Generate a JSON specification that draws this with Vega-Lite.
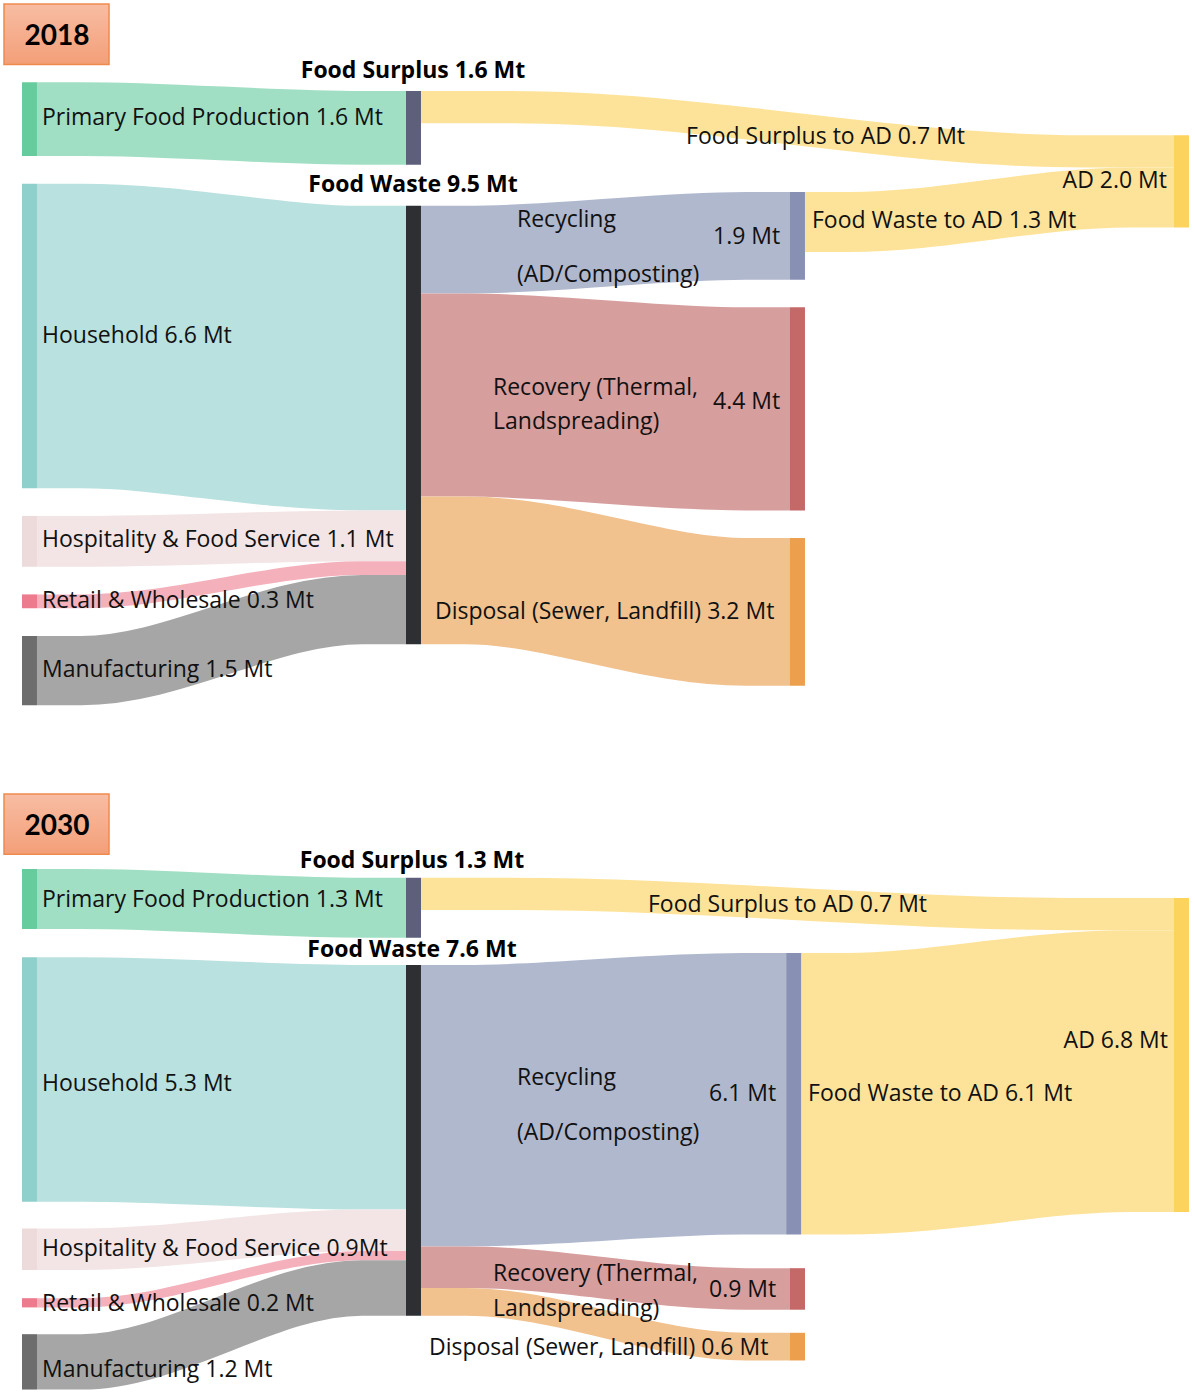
{
  "$schema": "https://vega.github.io/schema/vega-lite/v6.json",
  "width": 1195,
  "height": 1392,
  "autosize": {"type": "none"},
  "padding": 0,
  "background": "white",
  "config": {"view": {"stroke": null}, "text": {"font": "Open Sans", "fontSize": 23, "color": "#111111"}},
  "datasets": {
    "nodes": [
      {"yr": 2018, "node": "Primary", "col": 0, "top": 1.78, "value": 1.6},
      {"yr": 2018, "node": "Household", "col": 0, "top": 3.98, "value": 6.6},
      {"yr": 2018, "node": "Hospitality", "col": 0, "top": 11.18, "value": 1.1},
      {"yr": 2018, "node": "Retail", "col": 0, "top": 12.88, "value": 0.3},
      {"yr": 2018, "node": "Manufacturing", "col": 0, "top": 13.78, "value": 1.5},
      {"yr": 2018, "node": "Food Surplus", "col": 1, "top": 1.97, "value": 1.6},
      {"yr": 2018, "node": "Food Waste", "col": 1, "top": 4.46, "value": 9.5},
      {"yr": 2018, "node": "Recycling", "col": 2, "top": 4.16, "value": 1.9},
      {"yr": 2018, "node": "Recovery", "col": 2, "top": 6.66, "value": 4.4},
      {"yr": 2018, "node": "Disposal", "col": 2, "top": 11.66, "value": 3.2},
      {"yr": 2018, "node": "AD", "col": 3, "top": 2.93, "value": 2.0},
      {"yr": 2030, "node": "Primary", "col": 0, "top": 18.83, "value": 1.3},
      {"yr": 2030, "node": "Household", "col": 0, "top": 20.74, "value": 5.3},
      {"yr": 2030, "node": "Hospitality", "col": 0, "top": 26.62, "value": 0.9},
      {"yr": 2030, "node": "Retail", "col": 0, "top": 28.13, "value": 0.2},
      {"yr": 2030, "node": "Manufacturing", "col": 0, "top": 28.91, "value": 1.2},
      {"yr": 2030, "node": "Food Surplus", "col": 1, "top": 19.02, "value": 1.3},
      {"yr": 2030, "node": "Food Waste", "col": 1, "top": 20.91, "value": 7.6},
      {"yr": 2030, "node": "Recycling", "col": 1.99, "top": 20.65, "value": 6.1},
      {"yr": 2030, "node": "Recovery", "col": 2, "top": 27.48, "value": 0.9},
      {"yr": 2030, "node": "Disposal", "col": 2, "top": 28.88, "value": 0.6},
      {"yr": 2030, "node": "AD", "col": 3, "top": 19.46, "value": 6.8}
    ],
    "links": [
      {"yr": 2018, "link": "Primary to Surplus", "i": 0, "x": 0.039, "y": 1.78, "v": 1.6},
      {"yr": 2018, "link": "Primary to Surplus", "i": 1, "x": 0.154, "y": 1.78, "v": 1.6},
      {"yr": 2018, "link": "Primary to Surplus", "i": 2, "x": 0.885, "y": 1.97, "v": 1.6},
      {"yr": 2018, "link": "Primary to Surplus", "i": 3, "x": 1, "y": 1.97, "v": 1.6},
      {"yr": 2018, "link": "Household to Waste", "i": 0, "x": 0.039, "y": 3.98, "v": 6.6},
      {"yr": 2018, "link": "Household to Waste", "i": 1, "x": 0.154, "y": 3.98, "v": 6.6},
      {"yr": 2018, "link": "Household to Waste", "i": 2, "x": 0.885, "y": 4.46, "v": 6.6},
      {"yr": 2018, "link": "Household to Waste", "i": 3, "x": 1, "y": 4.46, "v": 6.6},
      {"yr": 2018, "link": "Hospitality to Waste", "i": 0, "x": 0.039, "y": 11.18, "v": 1.1},
      {"yr": 2018, "link": "Hospitality to Waste", "i": 1, "x": 0.154, "y": 11.18, "v": 1.1},
      {"yr": 2018, "link": "Hospitality to Waste", "i": 2, "x": 0.885, "y": 11.06, "v": 1.1},
      {"yr": 2018, "link": "Hospitality to Waste", "i": 3, "x": 1, "y": 11.06, "v": 1.1},
      {"yr": 2018, "link": "Retail to Waste", "i": 0, "x": 0.039, "y": 12.88, "v": 0.3},
      {"yr": 2018, "link": "Retail to Waste", "i": 1, "x": 0.154, "y": 12.88, "v": 0.3},
      {"yr": 2018, "link": "Retail to Waste", "i": 2, "x": 0.885, "y": 12.16, "v": 0.3},
      {"yr": 2018, "link": "Retail to Waste", "i": 3, "x": 1, "y": 12.16, "v": 0.3},
      {"yr": 2018, "link": "Manufacturing to Waste", "i": 0, "x": 0.039, "y": 13.78, "v": 1.5},
      {"yr": 2018, "link": "Manufacturing to Waste", "i": 1, "x": 0.154, "y": 13.78, "v": 1.5},
      {"yr": 2018, "link": "Manufacturing to Waste", "i": 2, "x": 0.885, "y": 12.46, "v": 1.5},
      {"yr": 2018, "link": "Manufacturing to Waste", "i": 3, "x": 1, "y": 12.46, "v": 1.5},
      {"yr": 2018, "link": "Surplus to AD", "i": 0, "x": 1.039, "y": 1.97, "v": 0.7},
      {"yr": 2018, "link": "Surplus to AD", "i": 1, "x": 1.274, "y": 1.97, "v": 0.7},
      {"yr": 2018, "link": "Surplus to AD", "i": 2, "x": 2.765, "y": 2.93, "v": 0.7},
      {"yr": 2018, "link": "Surplus to AD", "i": 3, "x": 3, "y": 2.93, "v": 0.7},
      {"yr": 2018, "link": "Waste to Recycling", "i": 0, "x": 1.039, "y": 4.46, "v": 1.9},
      {"yr": 2018, "link": "Waste to Recycling", "i": 1, "x": 1.154, "y": 4.46, "v": 1.9},
      {"yr": 2018, "link": "Waste to Recycling", "i": 2, "x": 1.885, "y": 4.16, "v": 1.9},
      {"yr": 2018, "link": "Waste to Recycling", "i": 3, "x": 2, "y": 4.16, "v": 1.9},
      {"yr": 2018, "link": "Waste to Recovery", "i": 0, "x": 1.039, "y": 6.36, "v": 4.4},
      {"yr": 2018, "link": "Waste to Recovery", "i": 1, "x": 1.154, "y": 6.36, "v": 4.4},
      {"yr": 2018, "link": "Waste to Recovery", "i": 2, "x": 1.885, "y": 6.66, "v": 4.4},
      {"yr": 2018, "link": "Waste to Recovery", "i": 3, "x": 2, "y": 6.66, "v": 4.4},
      {"yr": 2018, "link": "Waste to Disposal", "i": 0, "x": 1.039, "y": 10.76, "v": 3.2},
      {"yr": 2018, "link": "Waste to Disposal", "i": 1, "x": 1.154, "y": 10.76, "v": 3.2},
      {"yr": 2018, "link": "Waste to Disposal", "i": 2, "x": 1.885, "y": 11.66, "v": 3.2},
      {"yr": 2018, "link": "Waste to Disposal", "i": 3, "x": 2, "y": 11.66, "v": 3.2},
      {"yr": 2018, "link": "Recycling to AD", "i": 0, "x": 2.039, "y": 4.16, "v": 1.3},
      {"yr": 2018, "link": "Recycling to AD", "i": 1, "x": 2.154, "y": 4.16, "v": 1.3},
      {"yr": 2018, "link": "Recycling to AD", "i": 2, "x": 2.885, "y": 3.63, "v": 1.3},
      {"yr": 2018, "link": "Recycling to AD", "i": 3, "x": 3, "y": 3.63, "v": 1.3},
      {"yr": 2030, "link": "Primary to Surplus", "i": 0, "x": 0.039, "y": 18.83, "v": 1.3},
      {"yr": 2030, "link": "Primary to Surplus", "i": 1, "x": 0.154, "y": 18.83, "v": 1.3},
      {"yr": 2030, "link": "Primary to Surplus", "i": 2, "x": 0.885, "y": 19.02, "v": 1.3},
      {"yr": 2030, "link": "Primary to Surplus", "i": 3, "x": 1, "y": 19.02, "v": 1.3},
      {"yr": 2030, "link": "Household to Waste", "i": 0, "x": 0.039, "y": 20.74, "v": 5.3},
      {"yr": 2030, "link": "Household to Waste", "i": 1, "x": 0.154, "y": 20.74, "v": 5.3},
      {"yr": 2030, "link": "Household to Waste", "i": 2, "x": 0.885, "y": 20.91, "v": 5.3},
      {"yr": 2030, "link": "Household to Waste", "i": 3, "x": 1, "y": 20.91, "v": 5.3},
      {"yr": 2030, "link": "Hospitality to Waste", "i": 0, "x": 0.039, "y": 26.62, "v": 0.9},
      {"yr": 2030, "link": "Hospitality to Waste", "i": 1, "x": 0.154, "y": 26.62, "v": 0.9},
      {"yr": 2030, "link": "Hospitality to Waste", "i": 2, "x": 0.885, "y": 26.21, "v": 0.9},
      {"yr": 2030, "link": "Hospitality to Waste", "i": 3, "x": 1, "y": 26.21, "v": 0.9},
      {"yr": 2030, "link": "Retail to Waste", "i": 0, "x": 0.039, "y": 28.13, "v": 0.2},
      {"yr": 2030, "link": "Retail to Waste", "i": 1, "x": 0.154, "y": 28.13, "v": 0.2},
      {"yr": 2030, "link": "Retail to Waste", "i": 2, "x": 0.885, "y": 27.11, "v": 0.2},
      {"yr": 2030, "link": "Retail to Waste", "i": 3, "x": 1, "y": 27.11, "v": 0.2},
      {"yr": 2030, "link": "Manufacturing to Waste", "i": 0, "x": 0.039, "y": 28.91, "v": 1.2},
      {"yr": 2030, "link": "Manufacturing to Waste", "i": 1, "x": 0.154, "y": 28.91, "v": 1.2},
      {"yr": 2030, "link": "Manufacturing to Waste", "i": 2, "x": 0.885, "y": 27.31, "v": 1.2},
      {"yr": 2030, "link": "Manufacturing to Waste", "i": 3, "x": 1, "y": 27.31, "v": 1.2},
      {"yr": 2030, "link": "Surplus to AD", "i": 0, "x": 1.039, "y": 19.02, "v": 0.7},
      {"yr": 2030, "link": "Surplus to AD", "i": 1, "x": 1.274, "y": 19.02, "v": 0.7},
      {"yr": 2030, "link": "Surplus to AD", "i": 2, "x": 2.765, "y": 19.46, "v": 0.7},
      {"yr": 2030, "link": "Surplus to AD", "i": 3, "x": 3, "y": 19.46, "v": 0.7},
      {"yr": 2030, "link": "Waste to Recycling", "i": 0, "x": 1.039, "y": 20.91, "v": 6.1},
      {"yr": 2030, "link": "Waste to Recycling", "i": 1, "x": 1.153, "y": 20.91, "v": 6.1},
      {"yr": 2030, "link": "Waste to Recycling", "i": 2, "x": 1.876, "y": 20.65, "v": 6.1},
      {"yr": 2030, "link": "Waste to Recycling", "i": 3, "x": 1.99, "y": 20.65, "v": 6.1},
      {"yr": 2030, "link": "Waste to Recovery", "i": 0, "x": 1.039, "y": 27.01, "v": 0.9},
      {"yr": 2030, "link": "Waste to Recovery", "i": 1, "x": 1.154, "y": 27.01, "v": 0.9},
      {"yr": 2030, "link": "Waste to Recovery", "i": 2, "x": 1.885, "y": 27.48, "v": 0.9},
      {"yr": 2030, "link": "Waste to Recovery", "i": 3, "x": 2, "y": 27.48, "v": 0.9},
      {"yr": 2030, "link": "Waste to Disposal", "i": 0, "x": 1.039, "y": 27.91, "v": 0.6},
      {"yr": 2030, "link": "Waste to Disposal", "i": 1, "x": 1.154, "y": 27.91, "v": 0.6},
      {"yr": 2030, "link": "Waste to Disposal", "i": 2, "x": 1.885, "y": 28.88, "v": 0.6},
      {"yr": 2030, "link": "Waste to Disposal", "i": 3, "x": 2, "y": 28.88, "v": 0.6},
      {"yr": 2030, "link": "Recycling to AD", "i": 0, "x": 2.029, "y": 20.65, "v": 6.1},
      {"yr": 2030, "link": "Recycling to AD", "i": 1, "x": 2.146, "y": 20.65, "v": 6.1},
      {"yr": 2030, "link": "Recycling to AD", "i": 2, "x": 2.883, "y": 20.16, "v": 6.1},
      {"yr": 2030, "link": "Recycling to AD", "i": 3, "x": 3, "y": 20.16, "v": 6.1}
    ],
    "labelsLeft": [
      {"t": "Primary Food Production 1.6 Mt", "x": 0.0521, "y": 2.709},
      {"t": "Food Surplus to AD 0.7 Mt", "x": 1.7292, "y": 3.12},
      {"t": "Food Waste to AD 1.3 Mt", "x": 2.0573, "y": 4.94},
      {"t": "Recycling", "x": 1.2891, "y": 4.919},
      {"t": "1.9 Mt", "x": 1.7995, "y": 5.287},
      {"t": "(AD/Composting)", "x": 1.2891, "y": 6.11},
      {"t": "Household 6.6 Mt", "x": 0.0521, "y": 7.432},
      {"t": "Recovery (Thermal,", "x": 1.2266, "y": 8.559},
      {"t": "4.4 Mt", "x": 1.7995, "y": 8.862},
      {"t": "Landspreading)", "x": 1.2266, "y": 9.296},
      {"t": "Hospitality & Food Service 1.1 Mt", "x": 0.0521, "y": 11.853},
      {"t": "Retail & Wholesale 0.3 Mt", "x": 0.0521, "y": 13.174},
      {"t": "Disposal (Sewer, Landfill) 3.2 Mt", "x": 1.0755, "y": 13.413},
      {"t": "Manufacturing 1.5 Mt", "x": 0.0521, "y": 14.67},
      {"t": "Primary Food Production 1.3 Mt", "x": 0.0521, "y": 19.653},
      {"t": "Food Surplus to AD 0.7 Mt", "x": 1.6302, "y": 19.762},
      {"t": "Household 5.3 Mt", "x": 0.0521, "y": 23.64},
      {"t": "Recycling", "x": 1.2891, "y": 23.51},
      {"t": "6.1 Mt", "x": 1.7891, "y": 23.857},
      {"t": "Food Waste to AD 6.1 Mt", "x": 2.0469, "y": 23.857},
      {"t": "(AD/Composting)", "x": 1.2891, "y": 24.702},
      {"t": "Hospitality & Food Service 0.9Mt", "x": 0.0521, "y": 27.215},
      {"t": "Recovery (Thermal,", "x": 1.2266, "y": 27.757},
      {"t": "0.9 Mt", "x": 1.7891, "y": 28.104},
      {"t": "Retail & Wholesale 0.2 Mt", "x": 0.0521, "y": 28.407},
      {"t": "Landspreading)", "x": 1.2266, "y": 28.516},
      {"t": "Disposal (Sewer, Landfill) 0.6 Mt", "x": 1.0599, "y": 29.361},
      {"t": "Manufacturing 1.2 Mt", "x": 0.0521, "y": 29.837}
    ],
    "labelsRight": [
      {"t": "AD 2.0 Mt", "x": 2.9818, "y": 4.074},
      {"t": "AD 6.8 Mt", "x": 2.9844, "y": 22.708}
    ],
    "labelsBold": [
      {"t": "Food Surplus 1.6 Mt", "x": 1.0182, "y": 1.69},
      {"t": "Food Waste 9.5 Mt", "x": 1.0182, "y": 4.16},
      {"t": "Food Surplus 1.3 Mt", "x": 1.0156, "y": 18.808},
      {"t": "Food Waste 7.6 Mt", "x": 1.0156, "y": 20.737}
    ],
    "years": [
      {"t": "2018", "x": 0.0911, "y": 0.975},
      {"t": "2030", "x": 0.0911, "y": 18.093}
    ]
  },
  "layer": [
    {
      "data": {"name": "links"},
      "transform": [
        {"calculate": "datum.y + datum.v / 2", "as": "cy"},
        {"calculate": "datum.yr + ' ' + datum.link", "as": "fid"}
      ],
      "mark": {"type": "line", "interpolate": "monotone", "strokeCap": "butt", "opacity": 1},
      "encoding": {
        "x": {"field": "x", "type": "quantitative", "scale": {"domain": [-0.0573, 3.0547], "nice": false, "zero": false}, "axis": null},
        "y": {"field": "cy", "type": "quantitative", "scale": {"domain": [0, 30.163], "reverse": true, "nice": false, "zero": false}, "axis": null},
        "order": {"field": "i", "type": "quantitative"},
        "detail": {"field": "fid", "type": "nominal"},
        "size": {"field": "v", "type": "quantitative", "legend": null, "scale": {"type": "linear", "domain": [0, 10], "range": [0, 461.5], "zero": true}},
        "color": {
          "field": "link", "type": "nominal", "legend": null,
          "scale": {
            "domain": ["Primary to Surplus", "Household to Waste", "Hospitality to Waste", "Retail to Waste", "Manufacturing to Waste", "Surplus to AD", "Waste to Recycling", "Waste to Recovery", "Waste to Disposal", "Recycling to AD"],
            "range": ["#a1dfc4", "#b9e1df", "#f3e5e5", "#f4b1bc", "#a6a6a6", "#fde39a", "#b0b8ce", "#d79e9e", "#f1c18e", "#fde39a"]
          }
        }
      }
    },
    {
      "data": {"name": "nodes"},
      "transform": [
        {"calculate": "datum.col + 0.039", "as": "col2"},
        {"calculate": "datum.top + datum.value", "as": "bot"}
      ],
      "mark": {"type": "rect"},
      "encoding": {
        "x": {"field": "col", "type": "quantitative", "scale": {"domain": [-0.0573, 3.0547], "nice": false, "zero": false}, "axis": null},
        "x2": {"field": "col2"},
        "y": {"field": "top", "type": "quantitative", "scale": {"domain": [0, 30.163], "reverse": true, "nice": false, "zero": false}, "axis": null},
        "y2": {"field": "bot"},
        "fill": {
          "field": "node", "type": "nominal", "legend": null,
          "scale": {
            "domain": ["Primary", "Household", "Hospitality", "Retail", "Manufacturing", "Food Surplus", "Food Waste", "Recycling", "Recovery", "Disposal", "AD"],
            "range": ["#66cc9e", "#8fcfcc", "#eddada", "#ec7b8d", "#6d6d6d", "#5d5f7b", "#2d2f33", "#8891b4", "#c46868", "#eca04e", "#fcd35c"]
          }
        }
      }
    },
    {
      "data": {"name": "years"},
      "transform": [
        {"calculate": "datum.x - 0.138", "as": "bx0"},
        {"calculate": "datum.x + 0.1355", "as": "bx1"},
        {"calculate": "datum.y - 0.888", "as": "by0"},
        {"calculate": "datum.y + 0.42", "as": "by1"}
      ],
      "mark": {
        "type": "rect",
        "stroke": "#ef8a4f",
        "strokeWidth": 1.5,
        "color": {"gradient": "linear", "x1": 0, "y1": 0, "x2": 0, "y2": 1, "stops": [{"offset": 0, "color": "#f8bda3"}, {"offset": 1, "color": "#f39f78"}]}
      },
      "encoding": {
        "x": {"field": "bx0", "type": "quantitative", "scale": {"domain": [-0.0573, 3.0547], "nice": false, "zero": false}, "axis": null},
        "x2": {"field": "bx1"},
        "y": {"field": "by0", "type": "quantitative", "scale": {"domain": [0, 30.163], "reverse": true, "nice": false, "zero": false}, "axis": null},
        "y2": {"field": "by1"}
      }
    },
    {
      "data": {"name": "years"},
      "mark": {"type": "text", "align": "center", "baseline": "alphabetic", "fontWeight": "bold", "fontSize": 28, "font": "Lato", "color": "#000000"},
      "encoding": {
        "x": {"field": "x", "type": "quantitative"},
        "y": {"field": "y", "type": "quantitative"},
        "text": {"field": "t"}
      }
    },
    {
      "data": {"name": "labelsLeft"},
      "mark": {"type": "text", "align": "left", "baseline": "alphabetic"},
      "encoding": {
        "x": {"field": "x", "type": "quantitative"},
        "y": {"field": "y", "type": "quantitative"},
        "text": {"field": "t"}
      }
    },
    {
      "data": {"name": "labelsRight"},
      "mark": {"type": "text", "align": "right", "baseline": "alphabetic"},
      "encoding": {
        "x": {"field": "x", "type": "quantitative"},
        "y": {"field": "y", "type": "quantitative"},
        "text": {"field": "t"}
      }
    },
    {
      "data": {"name": "labelsBold"},
      "mark": {"type": "text", "align": "center", "baseline": "alphabetic", "fontWeight": "bold", "color": "#000000"},
      "encoding": {
        "x": {"field": "x", "type": "quantitative"},
        "y": {"field": "y", "type": "quantitative"},
        "text": {"field": "t"}
      }
    }
  ]
}
